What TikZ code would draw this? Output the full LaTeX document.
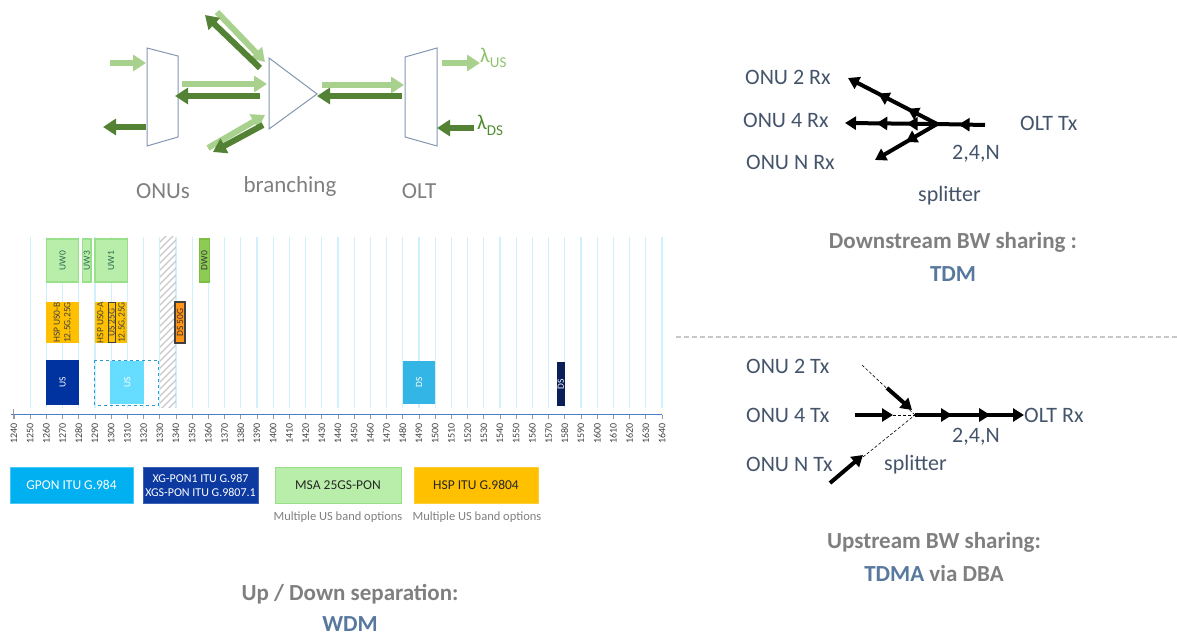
\documentclass[tikz,border=0pt]{standalone}
\usepackage{fontspec}
\setmainfont{Carlito}
\usepackage{xcolor}
\usetikzlibrary{arrows.meta,decorations.markings}
\definecolor{lgreen}{HTML}{A9D18E}
\definecolor{dgreen}{HTML}{548235}
\definecolor{lamus}{HTML}{8DC26B}
\definecolor{lamds}{HTML}{4E8B2E}
\definecolor{muxgray}{HTML}{8496B0}
\definecolor{labgray}{HTML}{7F7F7F}
\definecolor{slate}{HTML}{44546A}
\definecolor{tdmblue}{HTML}{58789E}
\definecolor{gridc}{HTML}{CFF1FD}
\definecolor{axisc}{HTML}{4A7DC8}
\definecolor{uwfill}{HTML}{B8EEAA}
\definecolor{uwdraw}{HTML}{98E08A}
\definecolor{dwfill}{HTML}{8DCB55}
\definecolor{dwdraw}{HTML}{7CBF45}
\definecolor{uwtext}{HTML}{2E6B4F}
\definecolor{hspc}{HTML}{FFC000}
\definecolor{dsor}{HTML}{FF9416}
\definecolor{usblue}{HTML}{0033A0}
\definecolor{uslite}{HTML}{66DDFF}
\definecolor{dashc}{HTML}{2F9ACF}
\definecolor{gponc}{HTML}{33B6E6}
\definecolor{navy}{HTML}{0A1E5A}
\definecolor{leggpon}{HTML}{00B0F0}
\definecolor{legxg}{HTML}{0D3AA0}
\definecolor{divc}{HTML}{C8C8C8}
\definecolor{hatchc}{HTML}{C8C8C8}
\begin{document}
\begin{tikzpicture}[x=1pt,y=-1pt,
  mux/.style={draw=muxgray,line width=1pt},
  up/.style={draw=lgreen,line width=6pt,-{Triangle[length=13pt,width=16pt]}},
  down/.style={draw=dgreen,line width=6pt,-{Triangle[length=13pt,width=16pt]}},
  lab/.style={text=labgray,font=\fontsize{23}{23}\selectfont,inner sep=0pt,anchor=base},
  port/.style={text=slate,font=\fontsize{22}{22}\selectfont,inner sep=0pt,anchor=base west},
  captxt/.style={text=labgray,font=\bfseries\fontsize{23}{23}\selectfont,inner sep=0pt,anchor=base},
  fib/.style={line width=4pt,-{Triangle[length=11pt,width=13pt]}},
  midtip/.style={postaction={decorate,decoration={markings,mark=at position #1 with {\arrow{Triangle[length=11pt,width=13pt]}}}}},
  thin dash/.style={line width=0.6pt,densely dashed},
  gridline/.style={draw=gridc,line width=1.2pt},
  bandtxt/.style={rotate=90,inner sep=0pt,font=\fontsize{9.5}{10.5}\selectfont,align=center},
  axlbl/.style={rotate=90,anchor=east,inner sep=0pt,text=black!75,font=\fontsize{10}{10}\selectfont},
  leg/.style={minimum height=36pt,inner sep=0pt,font=\fontsize{13.5}{15}\selectfont,align=center,line width=1pt},
  note/.style={text=labgray,font=\fontsize{12.5}{12.5}\selectfont,inner sep=0pt}]
\useasboundingbox (0,0) rectangle (1177,636);

\draw[mux] (147,48) -- (178,56) -- (178,137) -- (147,146) -- cycle;
\draw[mux] (269,58) -- (317,94) -- (269,129) -- cycle;
\draw[mux] (405,57) -- (437,48) -- (437,146) -- (405,137) -- cycle;
\coordinate (onuin) at (110,63);   \coordinate (onuinE) at (146,63);
\coordinate (onuout) at (146,127); \coordinate (onuoutE) at (103,127);
\coordinate (m1) at (182,84);      \coordinate (m1E) at (267,84);
\coordinate (m2) at (260,96);      \coordinate (m2E) at (175,96);
\coordinate (ua) at (217,12);      \coordinate (uaE) at (265,62);
\coordinate (ub) at (260,68);      \coordinate (ubE) at (205,15);
\coordinate (la) at (208,148);     \coordinate (laE) at (265,115);
\coordinate (lb) at (263,125);     \coordinate (lbE) at (213,152);
\coordinate (r1) at (322,85);      \coordinate (r1E) at (404,85);
\coordinate (r2) at (402,96);      \coordinate (r2E) at (317,96);
\coordinate (oltout) at (442,63);  \coordinate (oltoutE) at (480,63);
\coordinate (oltin) at (474,128);  \coordinate (oltinE) at (437,128);
\draw[up] (onuin) -- (onuinE);
\draw[down] (onuout) -- (onuoutE);
\draw[up] (m1) -- (m1E);
\draw[down] (m2) -- (m2E);
\draw[up] (ua) -- (uaE);
\draw[down] (ub) -- (ubE);
\draw[up] (la) -- (laE);
\draw[down] (lb) -- (lbE);
\draw[up] (r1) -- (r1E);
\draw[down] (r2) -- (r2E);
\draw[up] (oltout) -- (oltoutE);
\draw[down] (oltin) -- (oltinE);
\node[anchor=base west,inner sep=0pt,text=lamus,font=\fontsize{21}{21}\selectfont] (lus) at (480,63) {λ\raisebox{-5pt}{\fontsize{15}{15}\selectfont US}};
\node[anchor=base west,inner sep=0pt,text=lamds,font=\fontsize{21}{21}\selectfont] (lds) at (477,130) {λ\raisebox{-6pt}{\fontsize{15}{15}\selectfont DS}};
\node[lab] (onus) at (163,199) {ONUs};
\node[lab] (branch) at (290,193) {branching};
\node[lab] (olt) at (419,199) {OLT};

\begin{scope}[x=1.62pt,xshift=-1994.8pt]
\foreach \w in {1250,1260,...,1640} \draw[gridline] (\w,237) -- (\w,408);
\end{scope}
\begin{scope}
\clip (160,237) rectangle (176.2,407);
\foreach \k in {237,244,...,430} \draw[hatchc,line width=1.4pt] (158,\k) -- (178,\k-20);
\end{scope}
\begin{scope}[x=1.62pt,xshift=-1994.8pt]
\draw[uwdraw,fill=uwfill,line width=1.2pt] (1260,239) rectangle (1280,282);
\draw[uwdraw,fill=uwfill,line width=1.2pt] (1282.5,239) rectangle (1287.5,282);
\draw[uwdraw,fill=uwfill,line width=1.2pt] (1290,239) rectangle (1310,282);
\draw[dwdraw,fill=dwfill,line width=1.2pt] (1354.5,239) rectangle (1360.5,282);
\node[bandtxt,text=uwtext] (uw0) at (1270,260.5) {UW0};
\node[bandtxt,text=uwtext] (uw3) at (1285,260.5) {UW3};
\node[bandtxt,text=uwtext] (uw1) at (1300,260.5) {UW1};
\node[bandtxt,text=black!80] (dw0) at (1357.5,260.5) {DW0};
\fill[hspc] (1260,302) rectangle (1280,343);
\fill[hspc] (1290,302) rectangle (1310,343);
\node[bandtxt,text=black!75] (hspb) at (1270,322.5) {HSP US0-B\\12.5G,25G};
\node[bandtxt,text=black!75] (hspa) at (1293.3,322.5) {HSP US0-A};
\node[bandtxt,text=black!75,draw=black!75,line width=1.2pt,minimum width=40pt,inner sep=0.4pt] (us25) at (1300.3,322.5) {US 25G};
\node[bandtxt,text=black!75] (hspr) at (1306.8,322.5) {12.5G,25G};
\node[bandtxt,text=black!80,draw=black!75,fill=dsor,line width=1.2pt,minimum width=41pt,minimum height=10pt] (ds50) at (1342.5,322.5) {DS 50G};
\fill[usblue] (1260,360) rectangle (1280,405);
\draw[dashc,line width=1pt,dashed] (1290,360) rectangle (1329.5,405);
\fill[uslite] (1299.5,361) rectangle (1320,404);
\fill[gponc] (1480,361) rectangle (1500,404);
\fill[navy] (1575,362) rectangle (1580,406);
\node[bandtxt,text=white] (usx) at (1270,382.5) {US};
\node[bandtxt,text=white] (usg) at (1310,382.5) {US};
\node[bandtxt,text=white] (dsg) at (1490,382.5) {DS};
\node[bandtxt,text=white] (dsx) at (1577.5,384) {DS};
\draw[axisc,line width=1.6pt] (1238,414.5) -- (1640,414.5);
\draw[black!40,line width=0.8pt] (1239.5,409) -- (1239.5,419);
\foreach \w in {1240,1250,...,1640} {
  \draw[black!40,line width=0.8pt] (\w,414.5) -- (\w,419);
  \node[axlbl] (t\w) at (\w,423) {\w};
}
\end{scope}

\node[leg,fill=leggpon,draw=leggpon!70,text=white,minimum width=123pt] (gpon) at (71.5,485) {GPON ITU G.984};
\node[leg,fill=legxg,draw=legxg!80,text=white,minimum width=115pt,font=\fontsize{12}{14}\selectfont] (xgs) at (200.5,485) {XG-PON1 ITU G.987\\XGS-PON ITU G.9807.1};
\node[leg,fill=uwfill,draw=uwdraw,text=black!85,minimum width=126pt] (msa) at (338,485) {MSA 25GS-PON};
\node[leg,fill=hspc,draw=hspc!80,text=black!85,minimum width=124pt] (hsp) at (476,485) {HSP ITU G.9804};
\node[note] (msanote) at (338,517) {Multiple US band options};
\node[note] (hspnote) at (477,517) {Multiple US band options};

\node[port] (rx2) at (745,85) {ONU 2 Rx};
\node[port] (rx4) at (743,128) {ONU 4 Rx};
\node[port] (rxn) at (746,170) {ONU N Rx};
\node[port] (oltx) at (1020,131) {OLT Tx};
\node[port] (dsn) at (952,160) {2,4,N};
\node[port] (dssplit) at (918,202) {splitter};
\coordinate (dsin) at (985,125);
\coordinate (dssp) at (937,124);
\coordinate (to2) at (848,78);
\coordinate (to4) at (845,123);
\coordinate (ton) at (875,160);
\draw[line width=4pt,midtip=0.55] (dsin) -- (dssp);
\draw[fib,midtip=0.33,midtip=0.66] (dssp) -- (to2);
\draw[fib,midtip=0.33,midtip=0.66] (dssp) -- (to4);
\draw[fib,midtip=0.5] (dssp) -- (ton);

\draw[divc,line width=1.5pt,dash pattern=on 5pt off 3pt] (676,337) -- (1177,337);

\node[port] (tx2) at (746,373) {ONU 2 Tx};
\node[port] (tx4) at (746,422) {ONU 4 Tx};
\node[port] (txn) at (746,471) {ONU N Tx};
\node[port] (olrx) at (1024,422) {OLT Rx};
\node[port] (usn) at (952,442) {2,4,N};
\node[port] (ussplit) at (884,470) {splitter};
\coordinate (ussp) at (915,415);
\coordinate (orx) at (1024,415);
\coordinate (d2) at (862,365);
\coordinate (dn) at (863,457);
\coordinate (a2) at (887,388);  \coordinate (a2E) at (912,410);
\coordinate (a4) at (855,415);  \coordinate (a4E) at (893,415);
\coordinate (an) at (830,483);  \coordinate (anE) at (863,455);
\draw[thin dash] (d2) -- (ussp);
\draw[thin dash] (a4E) -- (ussp);
\draw[thin dash] (dn) -- (ussp);
\draw[fib] (a2) -- (a2E);
\draw[fib] (a4) -- (a4E);
\draw[fib] (an) -- (anE);
\draw[fib,midtip=0.34,midtip=0.69] (ussp) -- (orx);

\node[captxt] (dscap) at (953,249) {Downstream BW sharing :};
\node[captxt,text=tdmblue] (tdm) at (953,281) {TDM};
\node[captxt] (uscap) at (934,548) {Upstream BW sharing:};
\node[captxt] (tdma) at (934,581) {\textcolor{tdmblue}{TDMA} via DBA};
\node[captxt] (wdmcap) at (350,600) {Up / Down separation:};
\node[captxt,text=tdmblue] (wdm) at (350,631) {WDM};
\end{tikzpicture}
\end{document}
